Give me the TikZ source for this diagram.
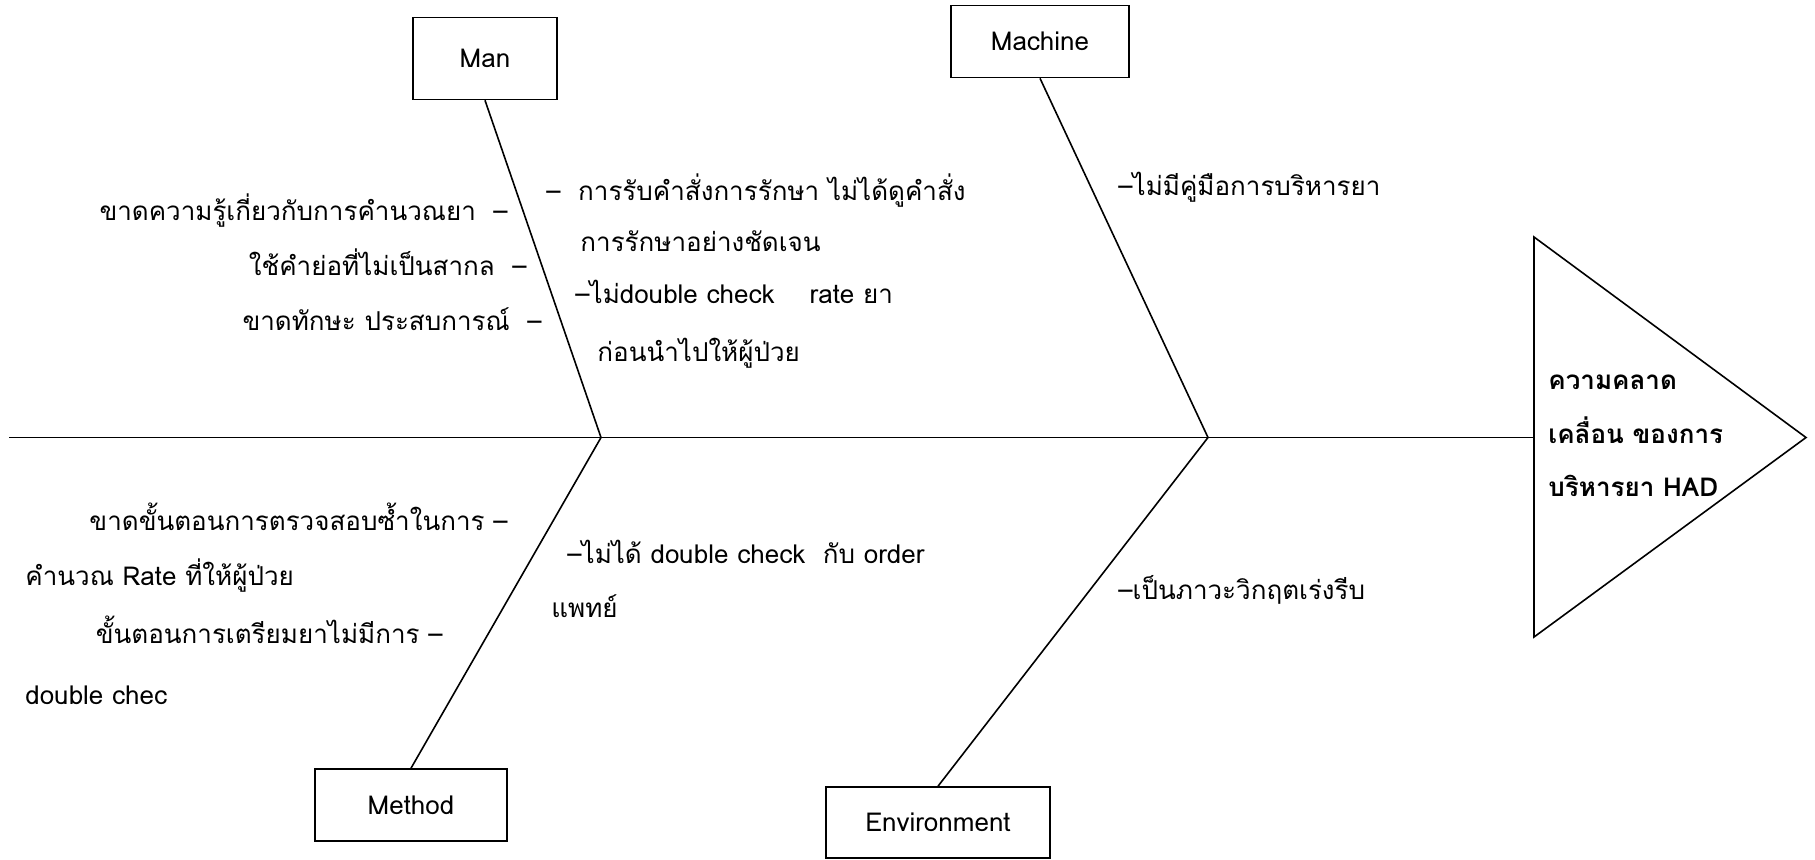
\documentclass[tikz,border=0pt]{standalone}
\usepackage{fontspec}
\setmainfont[Script=Thai]{Loma}
\tikzset{
	cat/.style={draw, thick, inner sep=0pt, font=\fontsize{13}{16}\selectfont},
	note/.style={inner sep=0pt, font=\fontsize{13}{16}\selectfont, text height=9pt, text depth=3pt}
}
\begin{document}
\begin{tikzpicture}[x=0.5pt, y=-0.5pt]
	\useasboundingbox (0,0) rectangle (1815,859);
	% spine and head
	\coordinate (tail) at (9,437.5);
	\coordinate (head) at (1534,437.5);
	\coordinate (j1) at (601,437.5);
	\coordinate (j2) at (1208,437.5);
	\draw[thick] (tail) -- (head);
	\draw[thick] (1534,237) coordinate (htop) -- (1806,437.5) coordinate (tip) -- (1534,637) coordinate (hbot) -- cycle;
	\node[note, font=\fontsize{13}{16}\selectfont\bfseries, anchor=west] (eff1) at (1548,383) {ความคลาด};
	\node[note, font=\fontsize{13}{16}\selectfont\bfseries, anchor=west] (eff2) at (1548,437.5) {เคลื่อน ของการ};
	\node[note, font=\fontsize{13}{16}\selectfont\bfseries, anchor=west] (eff3) at (1548,490) {บริหารยา HAD};
	% category boxes
	\node[cat, minimum width=72pt, minimum height=41pt] (man) at (485,58.5) {Man};
	\node[cat, minimum width=89pt, minimum height=36pt] (machine) at (1040,41.5) {Machine};
	\node[cat, minimum width=96pt, minimum height=36pt] (method) at (411,805) {Method};
	\node[cat, minimum width=112pt, minimum height=35.5pt] (env) at (938,822.5) {Environment};
	% bones
	\draw[thick] (man.south) -- (j1);
	\draw[thick] (machine.south) -- (j2);
	\draw[thick] (method.north) -- (j1);
	\draw[thick] (env.north) -- (j2);
	% causes: man
	\node[note, anchor=east] (ma1) at (508,214) {ขาดความรู้เกี่ยวกับการคำนวณยา\ \ –};
	\node[note, anchor=east] (ma2) at (527,269) {ใช้คำย่อที่ไม่เป็นสากล\ \ –};
	\node[note, anchor=east] (ma3) at (542,324) {ขาดทักษะ ประสบการณ์\ \ –};
	\node[note, anchor=west] (ma4) at (546,194) {–\ \ การรับคำสั่งการรักษา ไม่ได้ดูคำสั่ง};
	\node[note, anchor=west] (ma5) at (580,245) {การรักษาอย่างชัดเจน};
	\node[note, anchor=west] (ma6) at (575,297) {–ไม่double check\ \ \ \ rate ยา};
	\node[note, anchor=west] (ma7) at (597,355) {ก่อนนำไปให้ผู้ป่วย};
	% causes: machine
	\node[note, anchor=west] (mc1) at (1118,189) {–ไม่มีคู่มือการบริหารยา};
	% causes: method
	\node[note, anchor=east] (me1) at (508,524) {ขาดขั้นตอนการตรวจสอบซ้ำในการ –};
	\node[note, anchor=west] (me2) at (25,579) {คำนวณ Rate ที่ให้ผู้ป่วย};
	\node[note, anchor=east] (me3) at (443,637) {ขั้นตอนการเตรียมยาไม่มีการ –};
	\node[note, anchor=west] (me4) at (25,698) {double chec};
	\node[note, anchor=west] (me5) at (567,557) {–ไม่ได้ double check\ \ กับ order};
	\node[note, anchor=west] (me6) at (551,611) {แพทย์};
	% causes: environment
	\node[note, anchor=west] (en1) at (1118,593) {–เป็นภาวะวิกฤตเร่งรีบ};
\end{tikzpicture}
\end{document}
